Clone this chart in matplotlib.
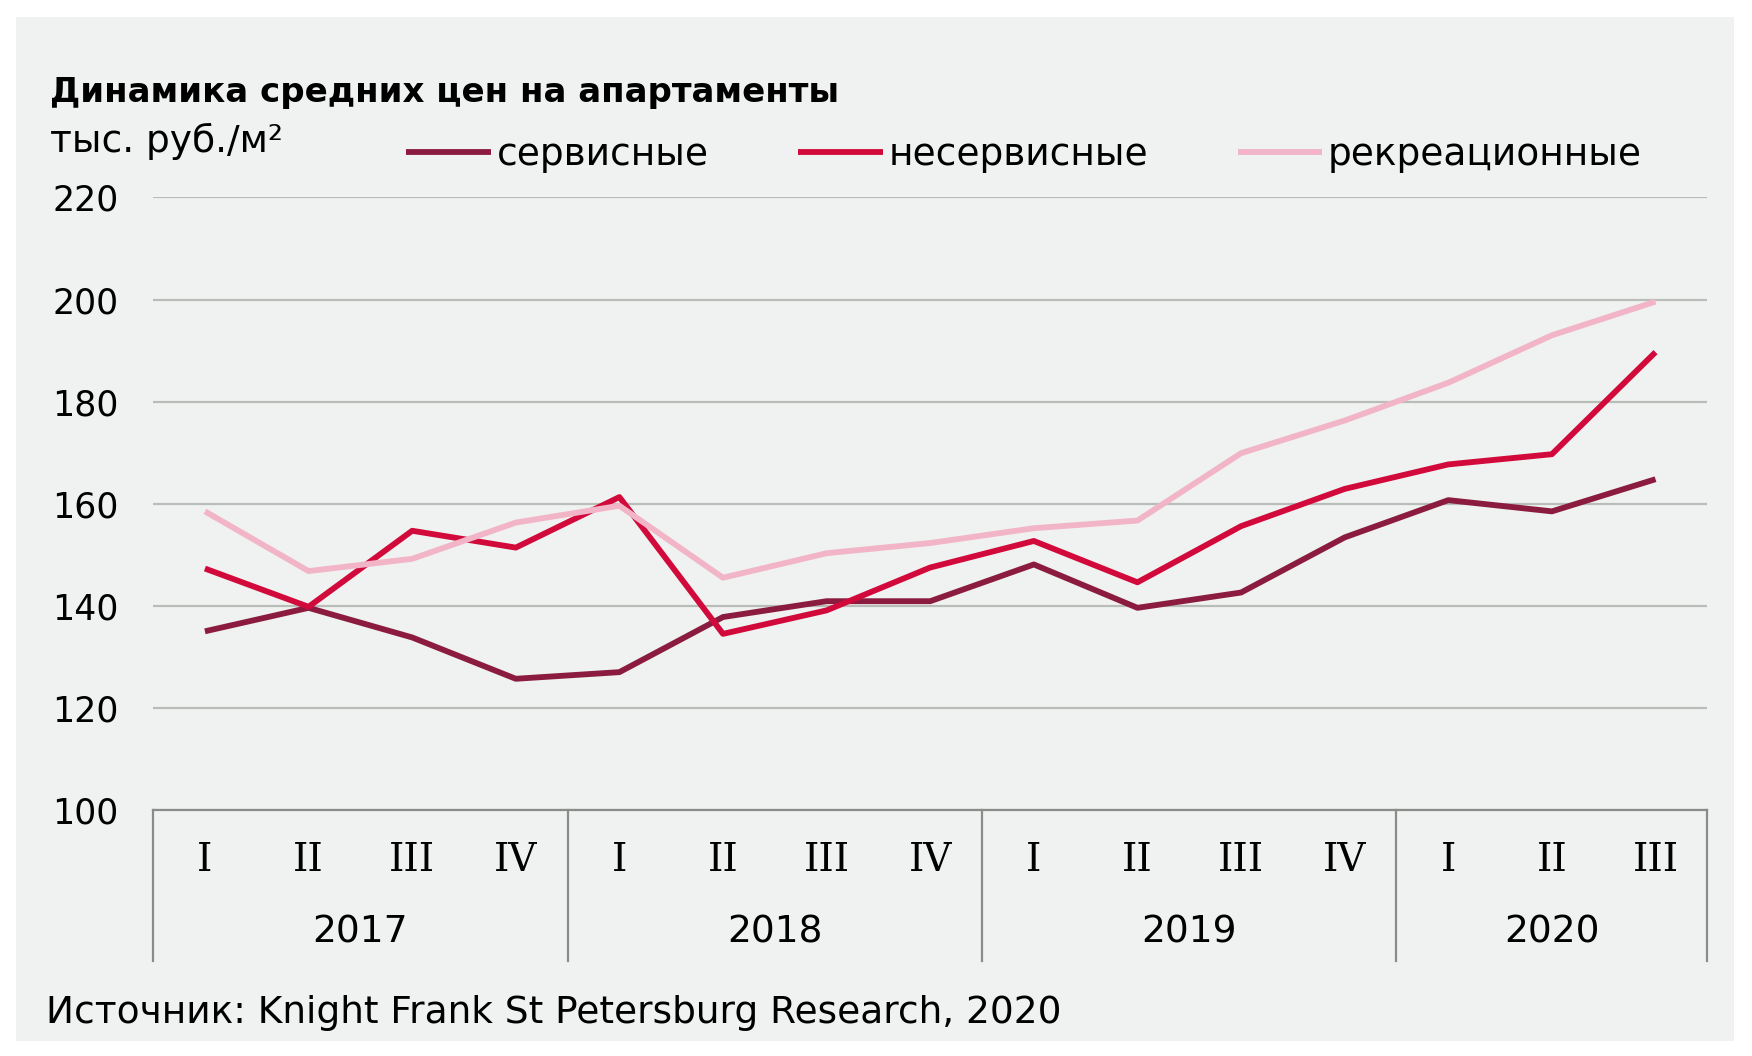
import numpy as np
import matplotlib.pyplot as plt
from matplotlib.patches import Rectangle

# данные
years = ['2017', '2018', '2019', '2020']
quarters = [['I', 'II', 'III', 'IV'], ['I', 'II', 'III', 'IV'],
            ['I', 'II', 'III', 'IV'], ['I', 'II', 'III']]
service = [135.0, 139.6, 133.8, 125.7, 127.0, 137.8, 140.9, 140.9,
           148.1, 139.6, 142.6, 153.4, 160.7, 158.5, 164.8]
nonservice = [147.3, 139.8, 154.7, 151.4, 161.3, 134.5, 139.1, 147.5,
              152.7, 144.6, 155.6, 162.9, 167.7, 169.7, 189.7]
recreation = [158.5, 146.8, 149.2, 156.3, 159.6, 145.5, 150.3, 152.3,
              155.2, 156.7, 169.9, 176.3, 183.7, 193.0, 199.6]
series_names = ['сервисные', 'несервисные', 'рекреационные']
yticks = [100, 120, 140, 160, 180, 200, 220]

bg = '#eff2f0'
fs = 27

fig = plt.figure(figsize=(17.52, 10.56), dpi=100)
fig.patch.set_facecolor('white')
fig.patches.append(Rectangle((0.009, 0.014), 0.981, 0.970, transform=fig.transFigure,
                             facecolor=bg, edgecolor='none', zorder=-10))

ax = fig.add_axes([0.0874, 0.233, 0.8871, 0.580])
ax.set_facecolor(bg)
ax.patch.set_alpha(0)

x = np.arange(len(service))
ax.plot(x, service, color='#8b1c3f', lw=4.2, label=series_names[0], solid_capstyle='butt')
ax.plot(x, nonservice, color='#d20a3c', lw=4.2, label=series_names[1], solid_capstyle='butt')
ax.plot(x, recreation, color='#f2b5c8', lw=4.2, label=series_names[2], solid_capstyle='butt')

ax.set_xlim(-0.5, len(service) - 0.5)
ax.set_ylim(100, 220)
ax.set_yticks(yticks)
ax.set_yticklabels([str(v) for v in yticks], fontsize=25)
ax.tick_params(axis='y', length=0, pad=25)
ax.set_xticks([])
ax.grid(axis='y', color='#b9bdb9', lw=1.6)
ax.set_axisbelow(True)
for s in ['left', 'right', 'top']:
    ax.spines[s].set_visible(False)
ax.spines['bottom'].set_color('#8a8c8a')
ax.spines['bottom'].set_linewidth(1.6)

# подписи кварталов и годов
trans = ax.get_xaxis_transform()
pos = 0
bounds = [-0.5]
for yr, qs in zip(years, quarters):
    for i, q in enumerate(qs):
        ax.text(pos + i, -0.083, q, transform=trans, ha='center', va='center',
                fontsize=28, family='DejaVu Serif')
    ax.text(pos + (len(qs) - 1) / 2, -0.20, yr, transform=trans, ha='center',
            va='center', fontsize=fs)
    pos += len(qs)
    bounds.append(pos - 0.5)
for b in bounds:
    ax.plot([b, b], [0, -0.246], transform=trans, color='#8a8c8a', lw=1.6, clip_on=False)

fig.text(0.0287, 0.912, 'Динамика средних цен на апартаменты', fontsize=24.5,
         fontweight='bold', ha='left', va='center')
fig.text(0.0287, 0.866, 'тыс. руб./м²', fontsize=fs, ha='left', va='center')
fig.text(0.026, 0.041, 'Источник: Knight Frank St Petersburg Research, 2020',
         fontsize=fs, ha='left', va='center')

fig.legend(loc='center left', bbox_to_anchor=(0.232, 0.853), ncol=3, frameon=False,
           fontsize=fs, handlelength=2.25, handletextpad=0.15, columnspacing=2.4,
           borderaxespad=0, borderpad=0)

fig.savefig('out.png', dpi=100, facecolor='white')
